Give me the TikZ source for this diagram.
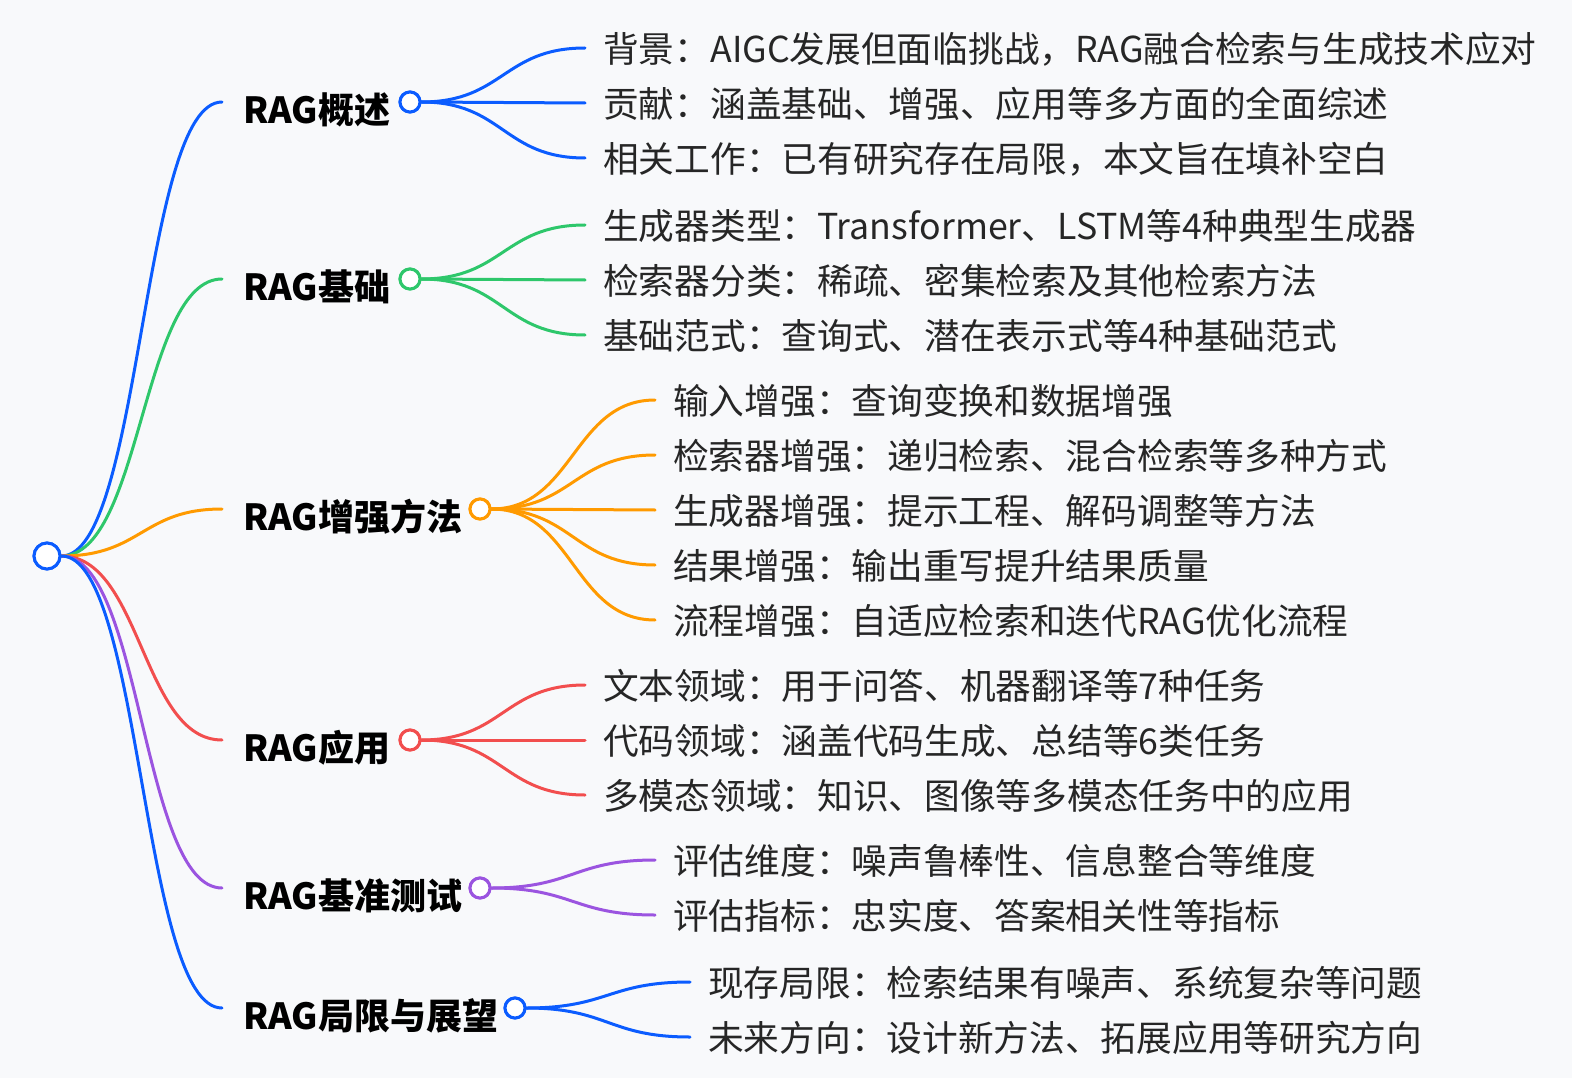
\documentclass[tikz,border=0pt]{standalone}
\usepackage{fontspec}
\setmainfont{Noto Sans CJK SC}
\usetikzlibrary{calc}
\definecolor{bg}{HTML}{F8F9FB}
\definecolor{cblue}{HTML}{0B5CFF}
\definecolor{cgreen}{HTML}{2EC76B}
\definecolor{corange}{HTML}{FF9A00}
\definecolor{cred}{HTML}{F24E4E}
\definecolor{cpurple}{HTML}{9B54E0}
\definecolor{ctext}{HTML}{262626}
\tikzset{
  link/.style={line width=3pt, line cap=round,
    to path={let \p1=(\tikztostart), \p2=(\tikztotarget) in
      .. controls ({(\x1+\x2)/2},\y1) and ({(\x1+\x2)/2},\y2) .. (\tikztotarget)}},
  dot/.style={circle, draw=#1, fill=white, line width=3pt, minimum size=20pt, inner sep=0pt},
  rootdot/.style={circle, draw=cblue, fill=white, line width=3pt, minimum size=26pt, inner sep=0pt},
  blabel/.style={anchor=west, inner sep=0pt, font=\fontsize{36}{40}\selectfont\bfseries, text=black},
  clabel/.style={anchor=west, inner sep=0pt, font=\fontsize{35.7}{40}\selectfont, text=ctext},
}
\begin{document}
\begin{tikzpicture}[x=1pt,y=-1pt]
\fill[bg] (0,0) rectangle (1572,1078);
\useasboundingbox (0,0) rectangle (1572,1078);

% root
\node[rootdot] (root) at (47,556) {};

% branch circles
\node[dot=cblue]   (c1) at (410,102) {};
\node[dot=cgreen]  (c2) at (410,279) {};
\node[dot=corange] (c3) at (480,509) {};
\node[dot=cred]    (c4) at (410,740) {};
\node[dot=cpurple] (c5) at (480,888) {};
\node[dot=cblue]   (c6) at (515,1008) {};

% branch line ends
\coordinate (e1) at (222,102);
\coordinate (e2) at (222,279);
\coordinate (e3) at (222,509);
\coordinate (e4) at (222,740);
\coordinate (e5) at (222,888);
\coordinate (e6) at (222,1008);

% branch labels
\node[blabel] (l1) at (243,110) {RAG概述};
\node[blabel] (l2) at (243,287) {RAG基础};
\node[blabel] (l3) at (243,517) {RAG增强方法};
\node[blabel] (l4) at (243,748) {RAG应用};
\node[blabel] (l5) at (243,896) {RAG基准测试};
\node[blabel] (l6) at (243,1016) {RAG局限与展望};

% child line ends
\coordinate (k11) at (585,48);
\coordinate (k12) at (585,103);
\coordinate (k13) at (585,158);
\coordinate (k21) at (585,225);
\coordinate (k22) at (585,280);
\coordinate (k23) at (585,335);
\coordinate (k31) at (655,400);
\coordinate (k32) at (655,455);
\coordinate (k33) at (655,510);
\coordinate (k34) at (655,565);
\coordinate (k35) at (655,620);
\coordinate (k41) at (585,685);
\coordinate (k42) at (585,740);
\coordinate (k43) at (585,795);
\coordinate (k51) at (655,860);
\coordinate (k52) at (655,915);
\coordinate (k61) at (690,982);
\coordinate (k62) at (690,1037);

% child texts
\node[clabel] (t11) at (603,49)  {背景：AIGC发展但面临挑战，RAG融合检索与生成技术应对};
\node[clabel] (t12) at (603,104) {贡献：涵盖基础、增强、应用等多方面的全面综述};
\node[clabel] (t13) at (603,159) {相关工作：已有研究存在局限，本文旨在填补空白};
\node[clabel] (t21) at (603,226) {生成器类型：Transformer、LSTM等4种典型生成器};
\node[clabel] (t22) at (603,281) {检索器分类：稀疏、密集检索及其他检索方法};
\node[clabel] (t23) at (603,336) {基础范式：查询式、潜在表示式等4种基础范式};
\node[clabel] (t31) at (673,401) {输入增强：查询变换和数据增强};
\node[clabel] (t32) at (673,456) {检索器增强：递归检索、混合检索等多种方式};
\node[clabel] (t33) at (673,511) {生成器增强：提示工程、解码调整等方法};
\node[clabel] (t34) at (673,566) {结果增强：输出重写提升结果质量};
\node[clabel] (t35) at (673,621) {流程增强：自适应检索和迭代RAG优化流程};
\node[clabel] (t41) at (603,686) {文本领域：用于问答、机器翻译等7种任务};
\node[clabel] (t42) at (603,741) {代码领域：涵盖代码生成、总结等6类任务};
\node[clabel] (t43) at (603,796) {多模态领域：知识、图像等多模态任务中的应用};
\node[clabel] (t51) at (673,861) {评估维度：噪声鲁棒性、信息整合等维度};
\node[clabel] (t52) at (673,916) {评估指标：忠实度、答案相关性等指标};
\node[clabel] (t61) at (708,983) {现存局限：检索结果有噪声、系统复杂等问题};
\node[clabel] (t62) at (708,1038) {未来方向：设计新方法、拓展应用等研究方向};

% root links
\draw[link, cblue]   (root.east) to (e1);
\draw[link, cgreen]  (root.east) to (e2);
\draw[link, corange] (root.east) to (e3);
\draw[link, cred]    (root.east) to (e4);
\draw[link, cpurple] (root.east) to (e5);
\draw[link, cblue]   (root.east) to (e6);

% child links
\foreach \k in {11,12,13} \draw[link, cblue] (c1.east) to (k\k);
\foreach \k in {21,22,23} \draw[link, cgreen] (c2.east) to (k\k);
\foreach \k in {31,32,33,34,35} \draw[link, corange] (c3.east) to (k\k);
\foreach \k in {41,42,43} \draw[link, cred] (c4.east) to (k\k);
\foreach \k in {51,52} \draw[link, cpurple] (c5.east) to (k\k);
\foreach \k in {61,62} \draw[link, cblue] (c6.east) to (k\k);

% redraw circles on top
\node[rootdot] at (root) {};
\node[dot=cblue]   at (c1) {};
\node[dot=cgreen]  at (c2) {};
\node[dot=corange] at (c3) {};
\node[dot=cred]    at (c4) {};
\node[dot=cpurple] at (c5) {};
\node[dot=cblue]   at (c6) {};
\end{tikzpicture}
\end{document}
